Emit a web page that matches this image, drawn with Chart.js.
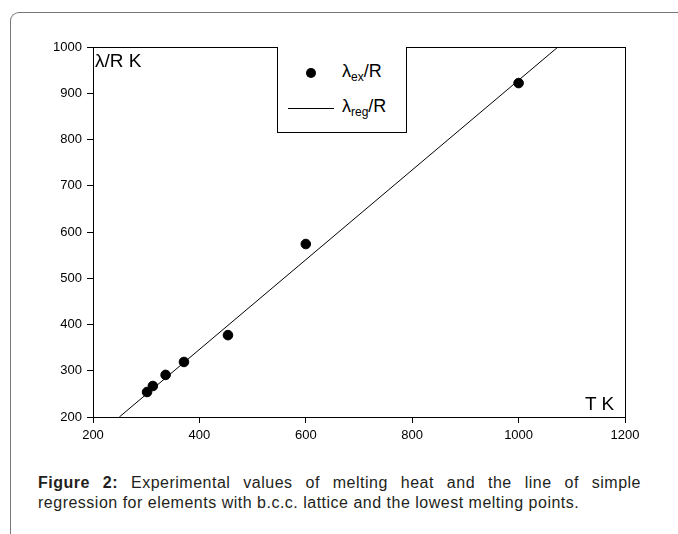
<!DOCTYPE html>
<html>
<head>
<meta charset="utf-8">
<script src="https://cdn.jsdelivr.net/npm/chart.js@4"></script>
<style>
  body { margin: 0; background: #fff; font-family: "Liberation Sans", Arial, sans-serif; }
  #wrap { position: relative; width: 678px; height: 534px; overflow: hidden; }
  #frame {
    position: absolute; left: 10px; top: 12px; width: 800px; height: 700px;
    border-left: 1.5px solid #777; border-top: 1.5px solid #777;
    border-top-left-radius: 9px;
  }
  #chartBox { position: absolute; left: 0; top: 0; width: 660px; height: 445px; }
  .lbl { position: absolute; font-size: 19px; color: #000; white-space: nowrap; }
  #legend {
    position: absolute; left: 277px; top: 47px; width: 130px; height: 86px;
    border: 1px solid #000; border-top: none; background: #fff; box-sizing: border-box;
  }
  .lgRow { position: absolute; left: 0; font-size: 18px; }
  .lgRow sub { font-size: 12px; vertical-align: -4px; }
  #caption {
    position: absolute; left: 38px; top: 473px; width: 603px;
    font-size: 16px; letter-spacing: 0.5px; line-height: 19.5px; color: #231f20;
  }
  #caption .l1 { text-align: justify; text-align-last: justify; white-space: nowrap; }
  #caption .l1 { white-space: normal; }
</style>
</head>
<body>
<div id="wrap">
  <div id="frame"></div>
  <div id="chartBox"><canvas id="meltChart"></canvas></div>
  <div class="lbl" style="left:95px; top:50px;">λ/R K</div>
  <div class="lbl" style="left:585px; top:393px;">T K</div>
  <div id="legend">
    <div class="lgRow" style="top:14px;">
      <span style="position:absolute; left:28px; top:7px; width:10px; height:10px; border-radius:50%; background:#000;"></span>
      <span style="position:absolute; left:64px; top:0; white-space:nowrap;">λ<sub>ex</sub>/R</span>
    </div>
    <div class="lgRow" style="top:49px;">
      <span style="position:absolute; left:10px; top:12px; width:46px; height:1px; background:#000;"></span>
      <span style="position:absolute; left:64px; top:0; white-space:nowrap;">λ<sub>reg</sub>/R</span>
    </div>
  </div>
  <div id="caption">
    <div class="l1"><b>Figure 2:</b> Experimental values of melting heat and the line of simple</div>
    <div>regression for elements with b.c.c. lattice and the lowest melting points.</div>
  </div>
</div>

<script>
// melting temperature T (K) and lambda/R (K)
const tempK = [301.6, 312.5, 336.5, 371, 453.7, 600, 1000];
const lambdaEx = [254, 267, 291, 319, 377, 574, 922];
// regression line end points (T, lambda/R)
const regT = [249.5, 1074];
const regL = [200, 1000];
const xTicks = [200, 400, 600, 800, 1000, 1200];
const yTicks = [200, 300, 400, 500, 600, 700, 800, 900, 1000];

const plotFrame = {
    id: 'plotFrame',
    afterDraw(chart) {
        const a = chart.chartArea;
        const c = chart.ctx;
        c.save();
        c.strokeStyle = '#000';
        c.lineWidth = 1;
        c.strokeRect(a.left + 0.5, a.top + 0.5, a.right - a.left, a.bottom - a.top);
        c.restore();
    }
};

document.addEventListener("DOMContentLoaded", function() {
    const ctx = document.getElementById('meltChart').getContext('2d');

    new Chart(ctx, {
        type: 'scatter',
        data: {
            datasets: [{
                label: 'λex/R',
                data: tempK.map((t, i) => ({x: t, y: lambdaEx[i]})),
                backgroundColor: '#000',
                borderColor: '#000',
                pointRadius: 4.8,
                pointHoverRadius: 4.8
            }, {
                label: 'λreg/R',
                type: 'line',
                data: regT.map((t, i) => ({x: t, y: regL[i]})),
                borderColor: '#000',
                borderWidth: 1,
                pointRadius: 0,
                fill: false
            }]
        },
        options: {
            responsive: true,
            maintainAspectRatio: false,
            animation: false,
            layout: { padding: { top: 47, right: 35, left: 0, bottom: 0 } },
            plugins: {
                legend: { display: false },
                tooltip: { enabled: false }
            },
            scales: {
                x: {
                    type: 'linear',
                    min: 200, max: 1200,
                    afterBuildTicks: axis => { axis.ticks = xTicks.map(v => ({value: v})); },
                    afterFit: axis => { axis.height = 28; },
                    grid: { drawOnChartArea: false, drawTicks: true, tickLength: 6, color: '#000' },
                    border: { display: true, color: '#000' },
                    ticks: { color: '#000', font: { family: 'Liberation Sans', size: 13 }, padding: 5, maxRotation: 0,
                             callback: v => String(v) }
                },
                y: {
                    type: 'linear',
                    min: 200, max: 1000,
                    afterBuildTicks: axis => { axis.ticks = yTicks.map(v => ({value: v})); },
                    afterFit: axis => { axis.width = 93; },
                    grid: { drawOnChartArea: false, drawTicks: true, tickLength: 6, color: '#000' },
                    border: { display: true, color: '#000' },
                    ticks: { color: '#000', font: { family: 'Liberation Sans', size: 13 }, padding: 5,
                             callback: v => String(v) }
                }
            }
        },
        plugins: [plotFrame]
    });
});
</script>
</body>
</html>
